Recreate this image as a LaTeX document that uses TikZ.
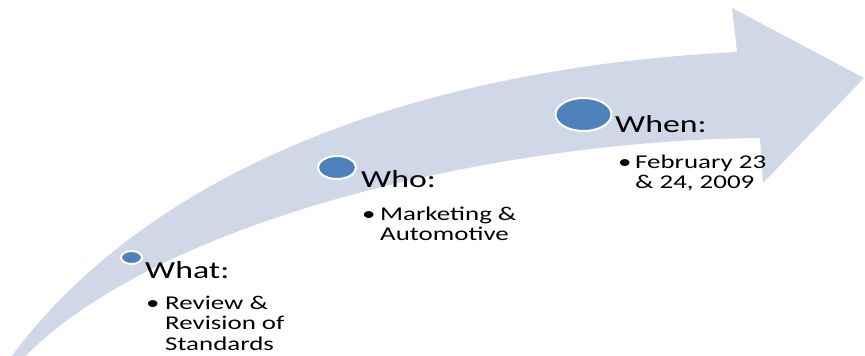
\documentclass[tikz,border=0pt]{standalone}
\usepackage{fontspec}
\setmainfont{Carlito}[FakeStretch=1.38]
\usetikzlibrary{shapes.geometric}
\definecolor{arrowfill}{RGB}{208,216,232}
\definecolor{dotblue}{RGB}{79,129,189}
\tikzset{
  dotnode/.style={ellipse, draw=white, line width=2pt, fill=dotblue, inner sep=0pt},
  headtext/.style={anchor=base west, inner sep=0pt, font=\fontsize{24.5}{26}\selectfont},
  bullettext/.style={anchor=base west, inner sep=0pt, align=left, font=\fontsize{19.5}{20.5}\selectfont},
  bulletmark/.style={anchor=base west, inner sep=0pt, font=\fontsize{19.5}{20.5}\selectfont}
}
\begin{document}
\begin{tikzpicture}[x=1pt,y=-1pt]
\useasboundingbox (0,0) rectangle (865,356);
\clip (0,0) rectangle (865,356);
\coordinate (tailtop) at (6,364);
\coordinate (bodytop) at (737,52);
\coordinate (barbtop) at (732,8);
\coordinate (tip) at (864,78);
\coordinate (barbbot) at (763,183);
\coordinate (bodybot) at (760,138);
\coordinate (tailbot) at (18,364);
\fill[arrowfill]
  (tailtop) .. controls (130,190) and (380,70) .. (bodytop)
  -- (barbtop) -- (tip) -- (barbbot) -- (bodybot)
  .. controls (500,140) and (150,220) .. (tailbot)
  -- cycle;
% circles
\node[dotnode, minimum width=21pt, minimum height=13pt] (c1) at (131.5,257.5) {};
\node[dotnode, minimum width=38pt, minimum height=23pt] (c2) at (337,167.5) {};
\node[dotnode, minimum width=56pt, minimum height=33pt] (c3) at (583.5,114.5) {};
% headings
\node[headtext] (h1) at (145,278) {What:};
\node[headtext] (h2) at (361,187) {Who:};
\node[headtext] (h3) at (615,132) {When:};
% bullets (text nodes anchored at the baseline of their last line)
\node[bulletmark] (b1) at (146,309) {•};
\node[bullettext] (t1) at (165,350) {Review \&\\Revision of\\Standards};
\node[bulletmark] (b2) at (362,220) {•};
\node[bullettext] (t2) at (380,240.5) {Marketing \&\\Automotive};
\node[bulletmark] (b3) at (618,168) {•};
\node[bullettext] (t3) at (635,188.5) {February 23\\\& 24, 2009};
\end{tikzpicture}
\end{document}
